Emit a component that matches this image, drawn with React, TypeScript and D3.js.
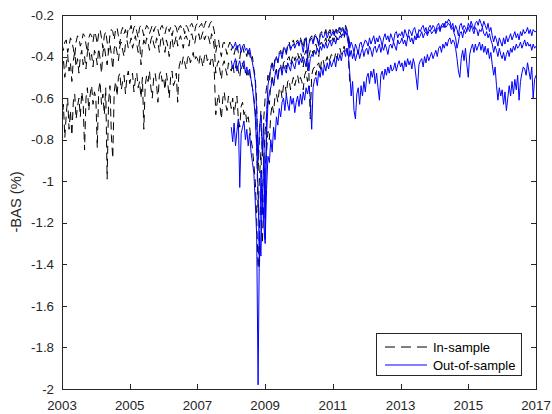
import React from "react";
import * as d3 from "d3";

// sampling: half-monthly observations (24 per year)
const STEP = 1 / 24;
const IS_START = 2003;
const OOS_START = 2008;

const xTicks = [2003, 2005, 2007, 2009, 2011, 2013, 2015, 2017];
const yTicks = [-2, -1.8, -1.6, -1.4, -1.2, -1, -0.8, -0.6, -0.4, -0.2];
const legendLabels = ["In-sample", "Out-of-sample"];
const yLabel = "-BAS (%)";

// In-sample (black dashed), 2003.0 - 2011.5
const isTop = [
  -0.34,-0.37,-0.33,-0.32,-0.38,-0.35,-0.31,-0.33,-0.36,-0.40,-0.33,-0.30,-0.31,-0.35,-0.33,-0.29,-0.30,-0.34,-0.38,-0.31,-0.29,-0.30,-0.33,-0.28,
  -0.30,-0.34,-0.29,-0.27,-0.31,-0.36,-0.30,-0.28,-0.33,-0.38,-0.29,-0.27,-0.28,-0.32,-0.27,-0.26,-0.30,-0.34,-0.28,-0.26,-0.29,-0.27,-0.31,-0.26,
  -0.27,-0.25,-0.29,-0.26,-0.25,-0.28,-0.31,-0.26,-0.25,-0.27,-0.30,-0.27,-0.25,-0.26,-0.29,-0.27,-0.25,-0.28,-0.26,-0.25,-0.27,-0.30,-0.26,-0.25,
  -0.27,-0.29,-0.26,-0.25,-0.28,-0.26,-0.30,-0.27,-0.25,-0.26,-0.29,-0.26,-0.25,-0.27,-0.26,-0.29,-0.25,-0.26,-0.28,-0.25,-0.24,-0.26,-0.28,-0.25,
  -0.24,-0.26,-0.25,-0.24,-0.27,-0.25,-0.23,-0.24,-0.26,-0.24,-0.23,-0.25,-0.28,-0.38,-0.34,-0.32,-0.37,-0.40,-0.34,-0.33,-0.36,-0.39,-0.35,-0.33,
  -0.37,-0.35,-0.39,-0.36,-0.34,-0.38,-0.41,-0.36,-0.35,-0.38,-0.37,-0.40,-0.36,-0.39,-0.42,-0.40,-0.46,-0.50,-0.62,-0.95,-0.78,-0.66,-0.88,-0.70,
  -0.60,-0.55,-0.49,-0.52,-0.45,-0.43,-0.46,-0.41,-0.40,-0.43,-0.38,-0.37,-0.40,-0.36,-0.35,-0.38,-0.34,-0.33,-0.36,-0.34,-0.32,-0.35,-0.33,-0.32,
  -0.34,-0.31,-0.33,-0.36,-0.31,-0.30,-0.38,-0.33,-0.31,-0.30,-0.33,-0.30,-0.29,-0.31,-0.34,-0.29,-0.28,-0.30,-0.29,-0.27,-0.30,-0.28,-0.27,-0.29,
  -0.27,-0.29,-0.26,-0.28,-0.27,-0.25,-0.27,-0.26,-0.28,-0.25,-0.27,-0.30,-0.34,
];

const isMid = [
  -0.46,-0.41,-0.50,-0.44,-0.39,-0.47,-0.43,-0.52,-0.42,-0.38,-0.45,-0.41,-0.48,-0.40,-0.37,-0.44,-0.40,-0.46,-0.38,-0.36,-0.42,-0.39,-0.45,-0.37,
  -0.39,-0.44,-0.36,-0.41,-0.48,-0.38,-0.35,-0.40,-0.44,-0.37,-0.34,-0.39,-0.46,-0.36,-0.34,-0.38,-0.42,-0.35,-0.33,-0.37,-0.40,-0.34,-0.32,-0.36,
  -0.34,-0.31,-0.36,-0.33,-0.30,-0.34,-0.38,-0.32,-0.44,-0.36,-0.32,-0.35,-0.31,-0.33,-0.37,-0.32,-0.30,-0.34,-0.36,-0.31,-0.33,-0.38,-0.32,-0.30,
  -0.34,-0.38,-0.32,-0.35,-0.40,-0.33,-0.31,-0.36,-0.33,-0.30,-0.35,-0.32,-0.30,-0.33,-0.36,-0.31,-0.30,-0.32,-0.35,-0.30,-0.29,-0.32,-0.34,-0.30,
  -0.31,-0.29,-0.33,-0.30,-0.28,-0.32,-0.30,-0.29,-0.31,-0.34,-0.29,-0.31,-0.36,-0.48,-0.44,-0.42,-0.47,-0.51,-0.44,-0.42,-0.46,-0.49,-0.43,-0.45,
  -0.47,-0.43,-0.48,-0.45,-0.42,-0.47,-0.50,-0.44,-0.43,-0.46,-0.45,-0.49,-0.46,-0.48,-0.52,-0.55,-0.60,-0.66,-0.82,-1.15,-0.98,-0.86,-1.08,-0.90,
  -0.76,-0.68,-0.60,-0.63,-0.53,-0.50,-0.54,-0.48,-0.46,-0.50,-0.45,-0.44,-0.48,-0.43,-0.42,-0.46,-0.41,-0.40,-0.44,-0.41,-0.39,-0.42,-0.40,-0.38,
  -0.41,-0.38,-0.40,-0.45,-0.39,-0.37,-0.47,-0.40,-0.37,-0.36,-0.39,-0.35,-0.34,-0.37,-0.40,-0.34,-0.33,-0.35,-0.33,-0.31,-0.34,-0.32,-0.30,-0.33,
  -0.31,-0.33,-0.30,-0.32,-0.30,-0.28,-0.30,-0.29,-0.31,-0.28,-0.30,-0.33,-0.38,
];

const isBot = [
  -0.72,-0.63,-0.79,-0.68,-0.60,-0.75,-0.66,-0.78,-0.62,-0.58,-0.70,-0.64,-0.60,-0.69,-0.57,-0.62,-0.85,-0.60,-0.55,-0.66,-0.58,-0.54,-0.63,-0.57,
  -0.60,-0.84,-0.56,-0.52,-0.63,-0.58,-0.68,-0.55,-0.99,-0.62,-0.54,-0.78,-0.89,-0.57,-0.52,-0.59,-0.50,-0.48,-0.56,-0.52,-0.49,-0.58,-0.50,-0.47,
  -0.53,-0.50,-0.48,-0.57,-0.51,-0.48,-0.55,-0.52,-0.60,-0.50,-0.75,-0.54,-0.49,-0.52,-0.47,-0.55,-0.60,-0.50,-0.48,-0.53,-0.62,-0.49,-0.47,-0.52,
  -0.50,-0.56,-0.48,-0.53,-0.60,-0.50,-0.47,-0.54,-0.52,-0.48,-0.62,-0.45,-0.42,-0.44,-0.40,-0.43,-0.46,-0.41,-0.39,-0.43,-0.41,-0.38,-0.42,-0.40,
  -0.41,-0.44,-0.39,-0.42,-0.45,-0.40,-0.38,-0.42,-0.41,-0.44,-0.40,-0.42,-0.48,-0.68,-0.62,-0.58,-0.64,-0.70,-0.60,-0.57,-0.63,-0.66,-0.59,-0.61,
  -0.65,-0.60,-0.68,-0.63,-0.59,-0.70,-0.74,-0.64,-0.62,-0.68,-0.66,-0.72,-0.69,-0.74,-0.80,-0.84,-0.92,-1.00,-1.18,-1.42,-1.22,-1.08,-1.30,-1.12,
  -0.93,-0.86,-0.76,-0.80,-0.68,-0.63,-0.67,-0.59,-0.58,-0.62,-0.56,-0.55,-0.60,-0.54,-0.53,-0.58,-0.52,-0.51,-0.56,-0.53,-0.50,-0.54,-0.51,-0.49,
  -0.53,-0.50,-0.52,-0.56,-0.49,-0.47,-0.52,-0.48,-0.70,-0.49,-0.46,-0.45,-0.49,-0.44,-0.43,-0.47,-0.42,-0.41,-0.45,-0.42,-0.40,-0.43,-0.41,-0.39,
  -0.40,-0.42,-0.38,-0.41,-0.37,-0.36,-0.39,-0.37,-0.35,-0.38,-0.36,-0.41,-0.52,
];

// Out-of-sample (blue solid), 2008.0 - 2017.0
const oosTop = [
  -0.34,-0.36,-0.35,-0.33,-0.37,-0.35,-0.34,-0.38,-0.35,-0.34,-0.37,-0.36,-0.39,-0.36,-0.40,-0.43,-0.47,-0.52,-0.66,-0.90,-0.74,-0.68,-0.86,-0.72,
  -1.28,-0.68,-0.54,-0.49,-0.46,-0.44,-0.47,-0.42,-0.40,-0.43,-0.39,-0.38,-0.41,-0.37,-0.36,-0.39,-0.35,-0.34,-0.37,-0.35,-0.34,-0.36,-0.34,-0.33,
  -0.35,-0.32,-0.34,-0.38,-0.33,-0.31,-0.40,-0.34,-0.32,-0.31,-0.34,-0.31,-0.30,-0.32,-0.35,-0.30,-0.29,-0.31,-0.30,-0.28,-0.31,-0.29,-0.28,-0.30,
  -0.28,-0.30,-0.27,-0.29,-0.28,-0.26,-0.28,-0.27,-0.29,-0.26,-0.28,-0.31,-0.36,-0.33,-0.35,-0.38,-0.34,-0.36,-0.39,-0.34,-0.33,-0.36,-0.34,-0.32,
  -0.33,-0.35,-0.31,-0.34,-0.32,-0.30,-0.34,-0.31,-0.33,-0.30,-0.32,-0.35,-0.31,-0.29,-0.32,-0.30,-0.33,-0.29,-0.31,-0.33,-0.29,-0.28,-0.31,-0.29,
  -0.30,-0.28,-0.31,-0.27,-0.29,-0.31,-0.27,-0.28,-0.30,-0.27,-0.26,-0.29,-0.31,-0.27,-0.28,-0.26,-0.25,-0.28,-0.26,-0.29,-0.26,-0.25,-0.27,-0.25,
  -0.26,-0.28,-0.25,-0.24,-0.27,-0.25,-0.24,-0.26,-0.23,-0.24,-0.22,-0.23,-0.26,-0.24,-0.28,-0.25,-0.27,-0.30,-0.25,-0.24,-0.27,-0.25,-0.26,-0.28,
  -0.24,-0.26,-0.23,-0.25,-0.27,-0.24,-0.23,-0.25,-0.22,-0.24,-0.26,-0.23,-0.25,-0.27,-0.24,-0.28,-0.26,-0.30,-0.33,-0.30,-0.32,-0.35,-0.31,-0.33,
  -0.35,-0.31,-0.34,-0.30,-0.33,-0.31,-0.29,-0.32,-0.30,-0.28,-0.31,-0.29,-0.32,-0.28,-0.30,-0.27,-0.29,-0.28,-0.26,-0.29,-0.27,-0.30,-0.27,-0.28,
  -0.28,
];

const oosMid = [
  -0.42,-0.46,-0.43,-0.41,-0.47,-0.44,-0.42,-0.46,-0.44,-0.42,-0.48,-0.45,-0.49,-0.46,-0.51,-0.55,-0.61,-0.69,-0.84,-1.05,-1.41,-0.95,-1.16,-0.88,
  -1.18,-0.78,-0.63,-0.57,-0.55,-0.51,-0.54,-0.49,-0.47,-0.51,-0.46,-0.45,-0.49,-0.44,-0.46,-0.48,-0.43,-0.45,-0.47,-0.42,-0.44,-0.46,-0.42,-0.41,
  -0.44,-0.41,-0.43,-0.40,-0.42,-0.45,-0.40,-0.47,-0.41,-0.39,-0.40,-0.37,-0.39,-0.36,-0.38,-0.35,-0.37,-0.34,-0.36,-0.33,-0.36,-0.34,-0.32,-0.35,
  -0.33,-0.31,-0.34,-0.31,-0.32,-0.30,-0.31,-0.29,-0.30,-0.28,-0.30,-0.34,-0.40,-0.37,-0.41,-0.38,-0.42,-0.39,-0.37,-0.41,-0.38,-0.36,-0.40,-0.37,
  -0.36,-0.39,-0.35,-0.37,-0.40,-0.36,-0.35,-0.38,-0.36,-0.34,-0.38,-0.35,-0.37,-0.34,-0.36,-0.39,-0.35,-0.34,-0.36,-0.33,-0.35,-0.37,-0.32,-0.34,
  -0.33,-0.31,-0.34,-0.32,-0.35,-0.31,-0.30,-0.33,-0.31,-0.34,-0.30,-0.32,-0.29,-0.31,-0.30,-0.28,-0.31,-0.29,-0.28,-0.30,-0.28,-0.27,-0.29,-0.28,
  -0.27,-0.29,-0.27,-0.26,-0.28,-0.25,-0.26,-0.24,-0.26,-0.25,-0.24,-0.25,-0.27,-0.26,-0.29,-0.31,-0.36,-0.33,-0.29,-0.28,-0.31,-0.27,-0.29,-0.27,
  -0.26,-0.28,-0.25,-0.27,-0.29,-0.26,-0.27,-0.30,-0.27,-0.28,-0.26,-0.29,-0.30,-0.28,-0.31,-0.29,-0.32,-0.34,-0.38,-0.35,-0.37,-0.40,-0.36,-0.39,
  -0.41,-0.38,-0.42,-0.39,-0.37,-0.40,-0.36,-0.38,-0.35,-0.37,-0.34,-0.36,-0.35,-0.33,-0.36,-0.34,-0.32,-0.35,-0.33,-0.35,-0.34,-0.37,-0.34,-0.36,
  -0.35,
];

const oosBot = [
  -0.74,-0.81,-0.72,-0.83,-0.76,-0.70,-1.03,-0.77,-0.74,-0.71,-0.80,-0.75,-0.83,-0.77,-0.86,-0.91,-0.96,-1.10,-1.26,-1.98,-1.24,-1.36,-1.04,-1.20,
  -1.30,-1.04,-0.88,-0.91,-0.80,-0.86,-0.74,-0.80,-0.69,-0.73,-0.65,-0.69,-0.62,-0.60,-0.66,-0.58,-0.63,-0.66,-0.59,-0.63,-0.60,-0.67,-0.62,-0.59,
  -0.64,-0.58,-0.63,-0.57,-0.61,-0.55,-0.58,-0.54,-0.60,-0.75,-0.55,-0.51,-0.50,-0.54,-0.47,-0.50,-0.45,-0.49,-0.44,-0.47,-0.43,-0.46,-0.42,-0.45,
  -0.43,-0.41,-0.45,-0.40,-0.42,-0.39,-0.42,-0.38,-0.37,-0.40,-0.36,-0.39,-0.48,-0.59,-0.52,-0.66,-0.70,-0.58,-0.55,-0.63,-0.54,-0.59,-0.52,-0.57,
  -0.50,-0.48,-0.53,-0.47,-0.50,-0.46,-0.53,-0.48,-0.55,-0.61,-0.49,-0.47,-0.51,-0.46,-0.49,-0.45,-0.48,-0.44,-0.47,-0.46,-0.43,-0.47,-0.44,-0.42,
  -0.45,-0.43,-0.47,-0.42,-0.45,-0.41,-0.44,-0.42,-0.46,-0.41,-0.44,-0.50,-0.56,-0.44,-0.42,-0.41,-0.45,-0.40,-0.43,-0.39,-0.42,-0.40,-0.38,-0.41,
  -0.39,-0.37,-0.40,-0.36,-0.35,-0.38,-0.34,-0.36,-0.33,-0.35,-0.32,-0.31,-0.34,-0.32,-0.33,-0.36,-0.41,-0.47,-0.50,-0.41,-0.37,-0.42,-0.36,-0.44,
  -0.50,-0.39,-0.36,-0.34,-0.38,-0.34,-0.37,-0.35,-0.33,-0.37,-0.34,-0.38,-0.35,-0.39,-0.36,-0.41,-0.38,-0.44,-0.49,-0.45,-0.54,-0.61,-0.55,-0.59,
  -0.56,-0.63,-0.57,-0.66,-0.60,-0.54,-0.59,-0.52,-0.58,-0.51,-0.56,-0.49,-0.61,-0.52,-0.48,-0.45,-0.46,-0.49,-0.43,-0.47,-0.51,-0.45,-0.60,-0.51,
  -0.49,
];

const inSample = [isTop, isMid, isBot];
const outSample = [oosTop, oosMid, oosBot];

const W = 552;
const H = 414;
const M = { left: 62, right: 536, top: 15, bottom: 389 };
const AX = "#262626";
const FONT = "'Liberation Sans', Arial, Helvetica, sans-serif";

export default function App() {
  const x = d3.scaleLinear().domain([2003, 2017]).range([M.left, M.right]);
  const y = d3.scaleLinear().domain([-2, -0.2]).range([M.bottom, M.top]);

  const mkLine = (start: number) =>
    d3
      .line<number>()
      .x((_, i) => x(start + i * STEP))
      .y((v) => y(v));

  const isLine = mkLine(IS_START);
  const oosLine = mkLine(OOS_START);
  const tl = 5;

  return (
    <svg
      width={W}
      height={H}
      style={{ position: "absolute", left: 0, top: 0, background: "#fff" }}
      fontFamily={FONT}
    >
      <defs>
        <clipPath id="plotclip">
          <rect x={M.left} y={M.top} width={M.right - M.left} height={M.bottom - M.top} />
        </clipPath>
      </defs>
      <rect x={0} y={0} width={W} height={H} fill="#fff" />
      <g clipPath="url(#plotclip)">
        {inSample.map((s, k) => (
          <path
            key={"is" + k}
            d={isLine(s) || ""}
            fill="none"
            stroke="#000"
            strokeWidth={1}
            strokeDasharray="8,5"
          />
        ))}
        {outSample.map((s, k) => (
          <path key={"oos" + k} d={oosLine(s) || ""} fill="none" stroke="#0000ff" strokeWidth={1} />
        ))}
      </g>

      {/* axes box */}
      <rect
        x={M.left + 0.5}
        y={M.top + 0.5}
        width={M.right - M.left}
        height={M.bottom - M.top}
        fill="none"
        stroke={AX}
        strokeWidth={1}
        shapeRendering="crispEdges"
      />

      {/* x ticks */}
      {xTicks.map((t) => (
        <g key={"xt" + t} shapeRendering="crispEdges">
          <line x1={Math.round(x(t)) + 0.5} x2={Math.round(x(t)) + 0.5} y1={M.bottom} y2={M.bottom - tl} stroke={AX} />
          <line x1={Math.round(x(t)) + 0.5} x2={Math.round(x(t)) + 0.5} y1={M.top} y2={M.top + tl} stroke={AX} />
          <text x={x(t)} y={410} textAnchor="middle" fontSize={13.3} fill={AX}>
            {t}
          </text>
        </g>
      ))}

      {/* y ticks */}
      {yTicks.map((t) => (
        <g key={"yt" + t} shapeRendering="crispEdges">
          <line x1={M.left} x2={M.left + tl} y1={Math.round(y(t)) + 0.5} y2={Math.round(y(t)) + 0.5} stroke={AX} />
          <line x1={M.right} x2={M.right - tl} y1={Math.round(y(t)) + 0.5} y2={Math.round(y(t)) + 0.5} stroke={AX} />
          <text x={M.left - 8} y={y(t)} dy="0.35em" textAnchor="end" fontSize={13.3} fill={AX}>
            {String(t)}
          </text>
        </g>
      ))}

      <text
        transform={`translate(16,${(M.top + M.bottom) / 2}) rotate(-90)`}
        textAnchor="middle"
        dy="0.35em"
        fontSize={14.7}
        fill={AX}
      >
        {yLabel}
      </text>

      {/* legend */}
      <g>
        <rect x={376.5} y={333.5} width={145} height={42} fill="#fff" stroke={AX} strokeWidth={1} shapeRendering="crispEdges" />
        <line x1={385} x2={427} y1={347} y2={347} stroke="#000" strokeWidth={1} strokeDasharray="10,6" />
        <text x={433} y={347} dy="0.35em" fontSize={13} fill="#000">
          {legendLabels[0]}
        </text>
        <line x1={385} x2={427} y1={365} y2={365} stroke="#0000ff" strokeWidth={1} />
        <text x={433} y={365} dy="0.35em" fontSize={13} fill="#000">
          {legendLabels[1]}
        </text>
      </g>
    </svg>
  );
}
